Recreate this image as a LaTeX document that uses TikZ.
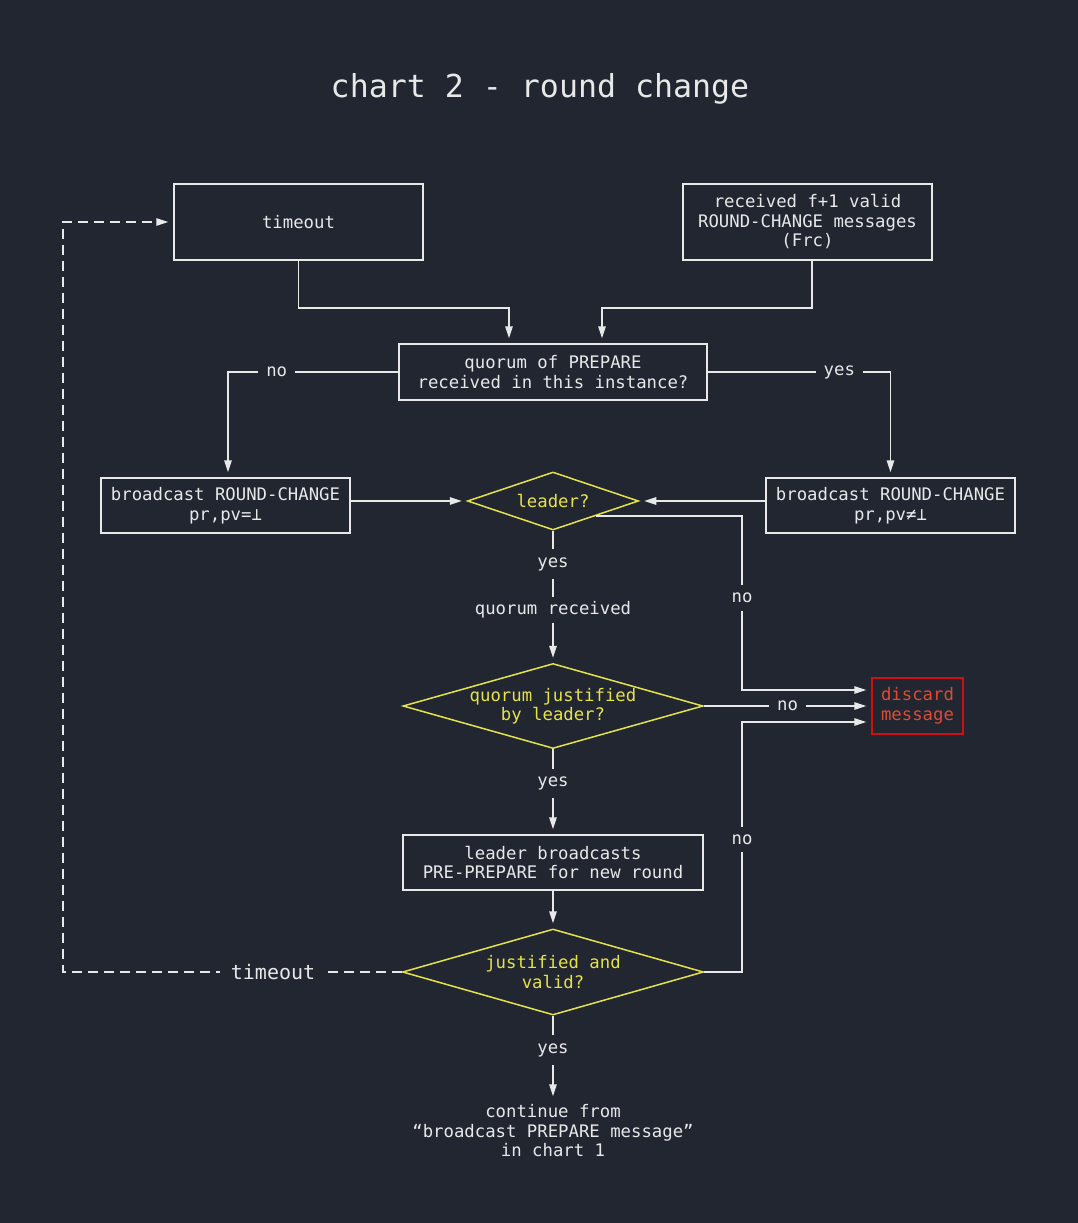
\documentclass[tikz,border=0pt]{standalone}
\usepackage{fontspec}
\setmonofont{DejaVu Sans Mono}
\usetikzlibrary{arrows.meta,shapes.geometric}
\definecolor{bg}{HTML}{212631}
\definecolor{fg}{HTML}{E8E8E8}
\definecolor{ylw}{HTML}{E6E34A}
\definecolor{redbox}{HTML}{CC1111}
\definecolor{redtxt}{HTML}{E04A33}
\newcommand{\txt}{\ttfamily\fontsize{17.3}{19.5}\selectfont}
\tikzset{
  box/.style={draw=fg, line width=1.5pt, text=fg, align=center, inner sep=0pt, font=\txt},
  dia/.style={diamond, draw=ylw, line width=1.5pt, inner sep=0pt},
  ytxt/.style={text=ylw, font=\txt, align=center},
  lbl/.style={text=fg, fill=bg, font=\txt, align=center, inner sep=8pt},
  link/.style={draw=fg, line width=1.5pt},
  flow/.style={link, -{Triangle[length=12pt,width=7.5pt]}, shorten >=5pt},
}
\begin{document}
\begin{tikzpicture}[x=1pt,y=-1pt]
  \fill[bg] (0,0) rectangle (1078,1223);
  \node[text=fg, font=\ttfamily\fontsize{31.6}{36}\selectfont] (title) at (540,89) {chart 2 - round change};

  \node[box, minimum width=249, minimum height=76] (timeout) at (298.5,222) {timeout};
  \node[box, minimum width=249, minimum height=76] (frc) at (807.5,222) {received f+1 valid\\ROUND-CHANGE messages\\(Frc)};
  \node[box, minimum width=308, minimum height=56] (quorum) at (553,372) {quorum of PREPARE\\received in this instance?};
  \node[box, minimum width=249, minimum height=55] (rcnil) at (225.5,505.5) {broadcast ROUND-CHANGE\\pr,pv=⊥};
  \node[box, minimum width=249, minimum height=55] (rcval) at (890.5,505.5) {broadcast ROUND-CHANGE\\pr,pv≠⊥};
  \node[dia, minimum width=171, minimum height=58, label={[ytxt]center:leader?}] (leader) at (553,501) {};
  \node[lbl, inner sep=4pt] (qrecv) at (553,610) {quorum received};
  \node[dia, minimum width=300, minimum height=85, label={[ytxt]center:quorum justified\\by leader?}] (qjust) at (553,706) {};
  \node[box, draw=redbox, text=redtxt, minimum width=91, minimum height=56] (discard) at (917.5,706) {discard\\message};
  \node[box, minimum width=300, minimum height=55] (lbcast) at (553,862.5) {leader broadcasts\\PRE-PREPARE for new round};
  \node[dia, minimum width=301, minimum height=86, label={[ytxt]center:justified and\\valid?}] (valid) at (553,972) {};
  \node[text=fg, font=\txt, align=center] (cont) at (553,1131) {continue from\\“broadcast PREPARE message”\\in chart 1};

  \coordinate (rail) at (742,600);
  \coordinate (back) at (63,600);
  \coordinate (inTop) at ([yshift=16pt]discard.west);
  \coordinate (inBot) at ([yshift=-16pt]discard.west);

  \draw[flow] (timeout.south) -- ++(0,47) -| ([xshift=-44pt]quorum.north);
  \draw[flow] ([xshift=4.5pt]frc.south) -- ++(0,47) -| ([xshift=49pt]quorum.north);
  \draw[flow] (quorum.west) -| node[lbl, pos=0.357]{no} ([xshift=2.5pt]rcnil.north);
  \draw[flow] (quorum.east) -| node[lbl, pos=0.36]{yes} (rcval.north);
  \draw[flow] (rcnil.east |- leader) -- (leader.west);
  \draw[flow] (rcval.west |- leader) -- (leader.east);
  \draw[link] (leader.south) -- node[lbl, pos=0.5]{yes} (qrecv);
  \draw[flow] (qrecv) -- (qjust.north);
  \draw[flow] (leader.south east) -- (leader.south east -| rail) -- node[lbl, pos=0.47]{no} (rail |- inTop) -- (inTop);
  \draw[flow] (qjust.east) -- node[lbl]{no} (discard.west);
  \draw[flow] (qjust.south) -- node[lbl, pos=0.4]{yes} (lbcast.north);
  \draw[flow] (lbcast.south) -- (valid.north);
  \draw[flow] (valid.east) -- (valid.east -| rail) -- node[lbl, pos=0.53]{no} (rail |- inBot) -- (inBot);
  \draw[flow] (valid.south) -- node[lbl, pos=0.4]{yes} (cont.north);
  \draw[flow, dash pattern=on 10pt off 6pt] (valid.west) -- node[lbl, inner sep=11pt, font=\ttfamily\fontsize{20}{24}\selectfont, pos=0.38]{timeout} (valid.west -| back) |- (timeout.west);
\end{tikzpicture}
\end{document}
